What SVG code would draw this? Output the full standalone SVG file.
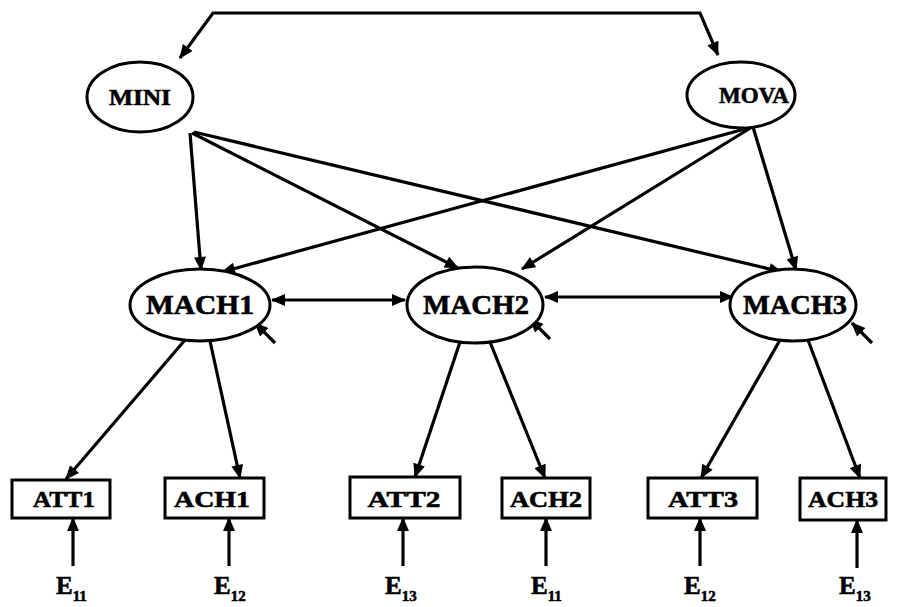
<svg xmlns="http://www.w3.org/2000/svg" width="900" height="607" viewBox="0 0 900 607">
  <style>
    .node { fill: #fff; stroke: #000; stroke-width: 3; }
    .lbl { font-family: "Liberation Serif", "DejaVu Serif", serif; font-weight: bold; fill: #000; stroke: #000; stroke-width: 0.6; text-anchor: middle; }
    .top { font-size: 24px; }
    .big { font-size: 27px; }
    .box { font-size: 24px; }
    .err { font-family: "Liberation Serif", "DejaVu Serif", serif; font-weight: bold; fill: #000; stroke: #000; stroke-width: 0.6; font-size: 25px; }
    .sub { font-size: 15px; }
    .edge { fill: none; stroke: #000; stroke-width: 3.2; marker-end: url(#ah); }
    .both { marker-start: url(#ah); }
  </style>
  <defs>
    <marker id="ah" viewBox="0 0 14 12" refX="13" refY="6" markerWidth="15" markerHeight="12" markerUnits="userSpaceOnUse" orient="auto-start-reverse">
      <path d="M0,0 L14,6 L0,12 z" fill="#000"/>
    </marker>
  </defs>
  <rect width="900" height="607" fill="#fff"/>

  <g id="connectors">
    <!-- correlation between the two exogenous factors -->
    <path class="edge both" d="M180,58 L213,13 L700,13 L718,55"/>
    <!-- MINI paths -->
    <path class="edge" d="M190,133 L201,270"/>
    <path class="edge" d="M192,133 L458,268"/>
    <path class="edge" d="M194,132 L782,272"/>
    <!-- MOVA paths -->
    <path class="edge" d="M752,127 L222,272"/>
    <path class="edge" d="M752,127 L522,269"/>
    <path class="edge" d="M753,127 L796,270"/>
    <!-- correlations among MACH factors -->
    <path class="edge both" d="M272,300 L405,300"/>
    <path class="edge both" d="M545,297 L733,297"/>
    <!-- disturbances -->
    <path class="edge" d="M275,343 L255,323"/>
    <path class="edge" d="M550,339 L530,319"/>
    <path class="edge" d="M872,343 L852,323"/>
    <!-- loadings -->
    <path class="edge" d="M185,340 L66,479"/>
    <path class="edge" d="M210,341 L240,478"/>
    <path class="edge" d="M460,342 L415,477"/>
    <path class="edge" d="M490,342 L545,478"/>
    <path class="edge" d="M780,340 L701,478"/>
    <path class="edge" d="M808,340 L860,478"/>
    <!-- measurement errors -->
    <path class="edge" d="M73,566 L73,518"/>
    <path class="edge" d="M229,566 L229,518"/>
    <path class="edge" d="M403,566 L403,518"/>
    <path class="edge" d="M546,566 L546,518"/>
    <path class="edge" d="M700,566 L700,518"/>
    <path class="edge" d="M857,568 L857,520"/>
  </g>

  <g id="MINI"><ellipse class="node" cx="140" cy="97" rx="53" ry="35"/><text class="lbl top" x="140" y="105" textLength="62" lengthAdjust="spacingAndGlyphs">MINI</text></g>
  <g id="MOVA"><ellipse class="node" cx="741" cy="95" rx="54" ry="33"/><text class="lbl top" x="754" y="103" textLength="70" lengthAdjust="spacingAndGlyphs">MOVA</text></g>
  <g id="MACH1"><ellipse class="node" cx="200" cy="305" rx="70" ry="36"/><text class="lbl big" x="200" y="314" textLength="108" lengthAdjust="spacingAndGlyphs">MACH1</text></g>
  <g id="MACH2"><ellipse class="node" cx="475" cy="305" rx="68" ry="38"/><text class="lbl big" x="476" y="314" textLength="106" lengthAdjust="spacingAndGlyphs">MACH2</text></g>
  <g id="MACH3"><ellipse class="node" cx="793" cy="305" rx="63" ry="36"/><text class="lbl big" x="795" y="314" textLength="104" lengthAdjust="spacingAndGlyphs">MACH3</text></g>

  <g id="ATT1"><rect class="node" x="12" y="480" width="98" height="38"/><text class="lbl box" x="64" y="507" textLength="62" lengthAdjust="spacingAndGlyphs">ATT1</text></g>
  <g id="ACH1"><rect class="node" x="165" y="478" width="99" height="40"/><text class="lbl box" x="212" y="507" textLength="76" lengthAdjust="spacingAndGlyphs">ACH1</text></g>
  <g id="ATT2"><rect class="node" x="350" y="477" width="110" height="41"/><text class="lbl box" x="404" y="507" textLength="73" lengthAdjust="spacingAndGlyphs">ATT2</text></g>
  <g id="ACH2"><rect class="node" x="502" y="478" width="88" height="40"/><text class="lbl box" x="546" y="507" textLength="72" lengthAdjust="spacingAndGlyphs">ACH2</text></g>
  <g id="ATT3"><rect class="node" x="648" y="478" width="109" height="40"/><text class="lbl box" x="703" y="507" textLength="70" lengthAdjust="spacingAndGlyphs">ATT3</text></g>
  <g id="ACH3"><rect class="node" x="800" y="478" width="86" height="42"/><text class="lbl box" x="843" y="507" textLength="70" lengthAdjust="spacingAndGlyphs">ACH3</text></g>

  <g id="E11a"><text class="err" x="56" y="594">E<tspan class="sub" dy="7">11</tspan></text></g>
  <g id="E12a"><text class="err" x="214" y="594">E<tspan class="sub" dy="7">12</tspan></text></g>
  <g id="E13a"><text class="err" x="385" y="594">E<tspan class="sub" dy="7">13</tspan></text></g>
  <g id="E11b"><text class="err" x="531" y="594">E<tspan class="sub" dy="7">11</tspan></text></g>
  <g id="E12b"><text class="err" x="684" y="594">E<tspan class="sub" dy="7">12</tspan></text></g>
  <g id="E13b"><text class="err" x="839" y="594">E<tspan class="sub" dy="7">13</tspan></text></g>
</svg>
